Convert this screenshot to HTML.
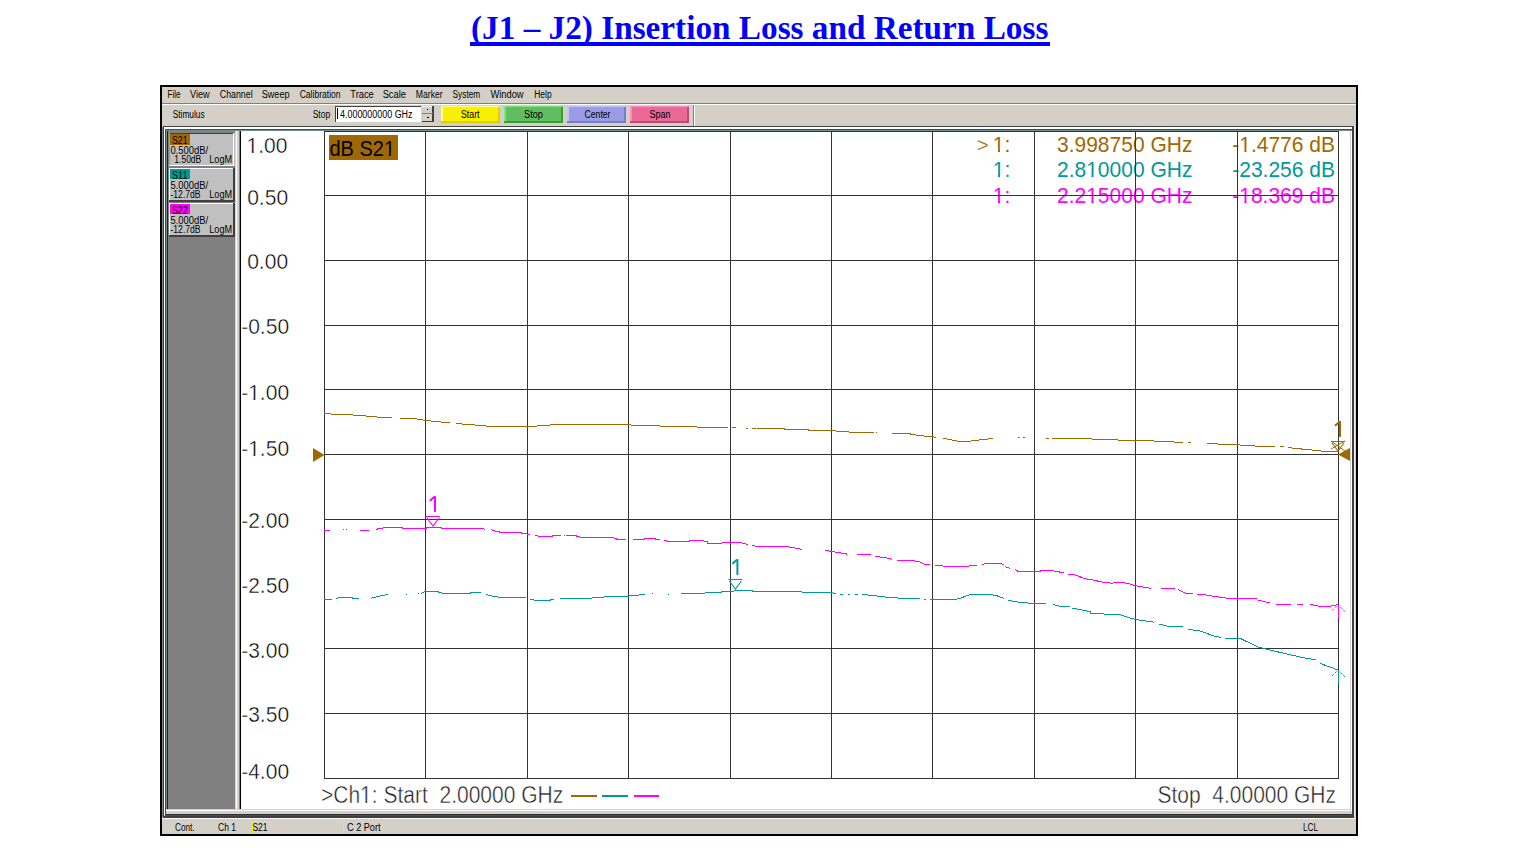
<!DOCTYPE html>
<html><head><meta charset="utf-8"><style>
html,body{margin:0;padding:0;background:#fff;width:1517px;height:862px;overflow:hidden}
.title{position:absolute;left:0;top:0;width:1517px;height:60px}
.title span{position:absolute;left:471px;top:10px;font-family:"Liberation Serif",serif;font-weight:bold;font-size:33.25px;color:#0000ff;white-space:nowrap;line-height:36px}
.title i{position:absolute;left:470px;top:42px;width:580px;height:4px;background:#0000ff}
svg{position:absolute;left:0;top:0}
svg text{font-family:"Liberation Sans",sans-serif}
</style></head><body>
<div class="title"><span>(J1 &#8211; J2) Insertion Loss and Return Loss</span><i></i></div>
<svg width="1517" height="862" viewBox="0 0 1517 862">
<g shape-rendering="crispEdges"><rect x="160" y="85" width="1198" height="751" fill="#000"/><rect x="162" y="87" width="1194" height="747" fill="#d4d0c8"/><rect x="162" y="103" width="1194" height="1" fill="#808080"/><rect x="162" y="104" width="1194" height="1" fill="#ffffff"/><text x="167.6" y="98" font-size="10" fill="#000" textLength="13.0" lengthAdjust="spacingAndGlyphs">File</text><text x="190" y="98" font-size="10" fill="#000" textLength="19.6" lengthAdjust="spacingAndGlyphs">View</text><text x="219.8" y="98" font-size="10" fill="#000" textLength="32.8" lengthAdjust="spacingAndGlyphs">Channel</text><text x="261.7" y="98" font-size="10" fill="#000" textLength="27.9" lengthAdjust="spacingAndGlyphs">Sweep</text><text x="299.7" y="98" font-size="10" fill="#000" textLength="40.9" lengthAdjust="spacingAndGlyphs">Calibration</text><text x="350.3" y="98" font-size="10" fill="#000" textLength="23.5" lengthAdjust="spacingAndGlyphs">Trace</text><text x="382.7" y="98" font-size="10" fill="#000" textLength="23.2" lengthAdjust="spacingAndGlyphs">Scale</text><text x="415.8" y="98" font-size="10" fill="#000" textLength="26.8" lengthAdjust="spacingAndGlyphs">Marker</text><text x="452.6" y="98" font-size="10" fill="#000" textLength="27.6" lengthAdjust="spacingAndGlyphs">System</text><text x="490.4" y="98" font-size="10" fill="#000" textLength="33.2" lengthAdjust="spacingAndGlyphs">Window</text><text x="534.3" y="98" font-size="10" fill="#000" textLength="17.3" lengthAdjust="spacingAndGlyphs">Help</text><text x="172.7" y="118" font-size="10" fill="#000" textLength="32" lengthAdjust="spacingAndGlyphs">Stimulus</text><text x="312.7" y="118" font-size="10" fill="#000" textLength="17.5" lengthAdjust="spacingAndGlyphs">Stop</text><rect x="335" y="106" width="86" height="16" fill="#808080"/><rect x="336" y="107" width="85" height="15" fill="#ffffff"/><rect x="335" y="106" width="86" height="1" fill="#404040"/><rect x="335" y="106" width="1" height="16" fill="#404040"/><rect x="337" y="108" width="1" height="11" fill="#000"/><text x="340" y="117.5" font-size="10" fill="#000" textLength="72.5" lengthAdjust="spacingAndGlyphs">4.000000000 GHz</text><rect x="422" y="106" width="12" height="16" fill="#d4d0c8"/><rect x="422" y="106" width="11" height="1" fill="#ffffff"/><rect x="432" y="106" width="2" height="16" fill="#404040"/><rect x="422" y="121" width="12" height="1" fill="#404040"/><rect x="422" y="113" width="11" height="1" fill="#808080"/><rect x="427" y="109" width="1" height="1" fill="#000"/><rect x="427" y="117" width="2" height="1" fill="#000"/><rect x="441" y="106" width="59" height="17" fill="#f8f000"/><rect x="441" y="106" width="59" height="1" fill="#ffff90"/><rect x="441" y="106" width="2" height="17" fill="#ffff90"/><rect x="498" y="107" width="2" height="16" fill="#e0d000"/><rect x="441" y="121" width="59" height="2" fill="#e0d000"/><text x="461" y="118" font-size="10" fill="#000" textLength="18.5" lengthAdjust="spacingAndGlyphs">Start</text><rect x="504" y="106" width="59" height="17" fill="#62bc62"/><rect x="504" y="106" width="59" height="1" fill="#78e878"/><rect x="504" y="106" width="2" height="17" fill="#78e878"/><rect x="561" y="107" width="2" height="16" fill="#34a034"/><rect x="504" y="121" width="59" height="2" fill="#34a034"/><text x="524" y="118" font-size="10" fill="#000" textLength="19.0" lengthAdjust="spacingAndGlyphs">Stop</text><rect x="567" y="106" width="59" height="17" fill="#9a9ce6"/><rect x="567" y="106" width="59" height="1" fill="#c0c4ff"/><rect x="567" y="106" width="2" height="17" fill="#c0c4ff"/><rect x="624" y="107" width="2" height="16" fill="#7a7cc8"/><rect x="567" y="121" width="59" height="2" fill="#7a7cc8"/><text x="584.5" y="118" font-size="10" fill="#000" textLength="26.0" lengthAdjust="spacingAndGlyphs">Center</text><rect x="630" y="106" width="59" height="17" fill="#e86a96"/><rect x="630" y="106" width="59" height="1" fill="#ff90c0"/><rect x="630" y="106" width="2" height="17" fill="#ff90c0"/><rect x="687" y="107" width="2" height="16" fill="#c04a76"/><rect x="630" y="121" width="59" height="2" fill="#c04a76"/><text x="649.5" y="118" font-size="10" fill="#000" textLength="21.0" lengthAdjust="spacingAndGlyphs">Span</text><rect x="693" y="105" width="1" height="21" fill="#808080"/><rect x="694" y="105" width="1" height="21" fill="#ffffff"/><rect x="163" y="126" width="1191" height="1" fill="#404040"/><rect x="163" y="126" width="1" height="690" fill="#404040"/><rect x="162" y="127" width="1" height="690" fill="#808080"/><rect x="164" y="127" width="1189" height="2" fill="#ffffff"/><rect x="164" y="127" width="1" height="688" fill="#ffffff"/><rect x="165" y="129" width="1187" height="1" fill="#ff0000"/><rect x="165" y="129" width="1" height="687" fill="#ff0000"/><rect x="165" y="815" width="1187" height="1" fill="#ff0000"/><rect x="1352" y="126" width="2" height="690" fill="#404040"/><rect x="1354" y="126" width="1" height="690" fill="#f0f0f0"/><rect x="163" y="816" width="1191" height="2" fill="#404040"/><rect x="166" y="130" width="1186" height="1" fill="#6f8f8f"/><rect x="166" y="131" width="1" height="680" fill="#6f8f8f"/><rect x="167" y="131" width="1" height="678" fill="#202020"/><rect x="168" y="131" width="67" height="678" fill="#808080"/><rect x="235" y="131" width="1" height="678" fill="#d4d0c8"/><rect x="236" y="131" width="1" height="678" fill="#ffffff"/><rect x="237" y="131" width="2" height="678" fill="#d4d0c8"/><rect x="239" y="131" width="1" height="678" fill="#808080"/><rect x="240" y="131" width="1" height="678" fill="#000000"/><rect x="166" y="809" width="1186" height="5" fill="#d4d0c8"/><rect x="166" y="810" width="1184" height="1" fill="#ffffff"/><rect x="166" y="814" width="1186" height="1" fill="#303030"/><rect x="162" y="818" width="1194" height="1" fill="#ffffff"/><rect x="241" y="131" width="1109" height="678" fill="#ffffff"/><rect x="1350" y="131" width="1" height="678" fill="#d4d0c8"/><rect x="1351" y="131" width="1" height="680" fill="#ffffff"/><rect x="169" y="133" width="66" height="34" fill="#c0c0c0"/><rect x="169" y="133" width="65" height="1" fill="#404040"/><rect x="169" y="133" width="1" height="33" fill="#a0a0a0"/><rect x="233" y="133" width="1" height="33" fill="#ffffff"/><rect x="169" y="165" width="65" height="1" fill="#ffffff"/><rect x="169" y="166" width="66" height="1" fill="#808080"/><rect x="170" y="134" width="20" height="11" fill="#a06800"/><text x="172" y="143.5" font-size="10" fill="#000" textLength="15.5" lengthAdjust="spacingAndGlyphs">S21</text><text x="170.5" y="153.5" font-size="10" fill="#000" textLength="37.5" lengthAdjust="spacingAndGlyphs">0.500dB/</text><text x="174.3" y="163" font-size="10" fill="#000" textLength="27" lengthAdjust="spacingAndGlyphs">1.50dB</text><text x="209.3" y="163" font-size="10" fill="#000" textLength="22.8" lengthAdjust="spacingAndGlyphs">LogM</text><rect x="169" y="168" width="66" height="34" fill="#c0c0c0"/><rect x="169" y="168" width="65" height="1" fill="#ffffff"/><rect x="169" y="168" width="1" height="33" fill="#ffffff"/><rect x="233" y="168" width="2" height="34" fill="#404040"/><rect x="169" y="200" width="66" height="2" fill="#404040"/><rect x="170" y="169" width="20" height="10" fill="#00999a"/><text x="172" y="178.5" font-size="10" fill="#000" textLength="15.5" lengthAdjust="spacingAndGlyphs">S11</text><text x="170.5" y="188.5" font-size="10" fill="#000" textLength="37.5" lengthAdjust="spacingAndGlyphs">5.000dB/</text><text x="170.5" y="198" font-size="10" fill="#000" textLength="30" lengthAdjust="spacingAndGlyphs">-12.7dB</text><text x="209.3" y="198" font-size="10" fill="#000" textLength="22.8" lengthAdjust="spacingAndGlyphs">LogM</text><rect x="169" y="203" width="66" height="34" fill="#c0c0c0"/><rect x="169" y="203" width="65" height="1" fill="#ffffff"/><rect x="169" y="203" width="1" height="33" fill="#ffffff"/><rect x="233" y="203" width="2" height="34" fill="#404040"/><rect x="169" y="235" width="66" height="2" fill="#404040"/><rect x="170" y="204" width="20" height="10" fill="#ff00ff"/><text x="172" y="213.5" font-size="10" fill="#000" textLength="15.5" lengthAdjust="spacingAndGlyphs">S22</text><text x="170.5" y="223.5" font-size="10" fill="#000" textLength="37.5" lengthAdjust="spacingAndGlyphs">5.000dB/</text><text x="170.5" y="233" font-size="10" fill="#000" textLength="30" lengthAdjust="spacingAndGlyphs">-12.7dB</text><text x="209.3" y="233" font-size="10" fill="#000" textLength="22.8" lengthAdjust="spacingAndGlyphs">LogM</text><text x="175" y="831" font-size="10" fill="#000" textLength="19.5" lengthAdjust="spacingAndGlyphs">Cont.</text><text x="218" y="831" font-size="10" fill="#000" textLength="18" lengthAdjust="spacingAndGlyphs">Ch 1</text><rect x="252" y="821" width="91" height="12" fill="none"/><rect x="252.5" y="821.5" width="90.5" height="12" fill="none" stroke="#f0f000" stroke-width="1"/><text x="252.5" y="831" font-size="10" fill="#000" textLength="15" lengthAdjust="spacingAndGlyphs">S21</text><text x="347" y="831" font-size="10" fill="#000" textLength="33.5" lengthAdjust="spacingAndGlyphs">C  2 Port</text><text x="1303" y="831" font-size="10" fill="#000" textLength="15" lengthAdjust="spacingAndGlyphs">LCL</text></g>
<g><rect x="329" y="135" width="69" height="25" fill="#a06800"/><g transform="translate(329.5,156) scale(1,1.03)"><text x="0" y="0" font-size="21" fill="#000" textLength="65.5" lengthAdjust="spacingAndGlyphs">dB S21</text><rect x="54.98" y="-2.1" width="4.35" height="2.97" fill="#a06800"/><rect x="61.27" y="-2.1" width="3.85" height="2.97" fill="#a06800"/></g><g transform="translate(246.5,153.3) scale(1,1.05)"><text x="0" y="0" font-size="21" fill="#000" textLength="40.87" lengthAdjust="spacingAndGlyphs" stroke="#fff" stroke-width="0.4">1.00</text><rect x="0.62" y="-2.1" width="4.57" height="2.97" fill="#fff"/><rect x="7.23" y="-2.1" width="4.05" height="2.97" fill="#fff"/></g><g transform="translate(247.2,205.3) scale(1,1.05)"><text x="0" y="0" font-size="21" fill="#000" textLength="40.87" lengthAdjust="spacingAndGlyphs" stroke="#fff" stroke-width="0.4">0.50</text></g><g transform="translate(247.2,269.3) scale(1,1.05)"><text x="0" y="0" font-size="21" fill="#000" textLength="40.87" lengthAdjust="spacingAndGlyphs" stroke="#fff" stroke-width="0.4">0.00</text></g><g transform="translate(241.2,334.3) scale(1,1.05)"><text x="0" y="0" font-size="21" fill="#000" textLength="47.87" lengthAdjust="spacingAndGlyphs" stroke="#fff" stroke-width="0.4">-0.50</text></g><g transform="translate(241.2,400.0) scale(1,1.05)"><text x="0" y="0" font-size="21" fill="#000" textLength="47.87" lengthAdjust="spacingAndGlyphs" stroke="#fff" stroke-width="0.4">-1.00</text><rect x="7.61" y="-2.1" width="4.57" height="2.97" fill="#fff"/><rect x="14.22" y="-2.1" width="4.05" height="2.97" fill="#fff"/></g><g transform="translate(241.2,456.0) scale(1,1.05)"><text x="0" y="0" font-size="21" fill="#000" textLength="47.87" lengthAdjust="spacingAndGlyphs" stroke="#fff" stroke-width="0.4">-1.50</text><rect x="7.61" y="-2.1" width="4.57" height="2.97" fill="#fff"/><rect x="14.22" y="-2.1" width="4.05" height="2.97" fill="#fff"/></g><g transform="translate(241.2,528.3) scale(1,1.05)"><text x="0" y="0" font-size="21" fill="#000" textLength="47.87" lengthAdjust="spacingAndGlyphs" stroke="#fff" stroke-width="0.4">-2.00</text></g><g transform="translate(241.2,593.3) scale(1,1.05)"><text x="0" y="0" font-size="21" fill="#000" textLength="47.87" lengthAdjust="spacingAndGlyphs" stroke="#fff" stroke-width="0.4">-2.50</text></g><g transform="translate(241.2,658.0) scale(1,1.05)"><text x="0" y="0" font-size="21" fill="#000" textLength="47.87" lengthAdjust="spacingAndGlyphs" stroke="#fff" stroke-width="0.4">-3.00</text></g><g transform="translate(241.2,722.3) scale(1,1.05)"><text x="0" y="0" font-size="21" fill="#000" textLength="47.87" lengthAdjust="spacingAndGlyphs" stroke="#fff" stroke-width="0.4">-3.50</text></g><g transform="translate(241.2,779.3) scale(1,1.05)"><text x="0" y="0" font-size="21" fill="#000" textLength="47.87" lengthAdjust="spacingAndGlyphs" stroke="#fff" stroke-width="0.4">-4.00</text></g><g transform="translate(976.5,151.7) scale(1,1.0)"><text x="0" y="0" font-size="21" fill="#a06800" textLength="12.26" lengthAdjust="spacingAndGlyphs" stroke="#fff" stroke-width="0.25">&gt;</text></g><g transform="translate(1010.3,151.5) scale(1,1.08)"><text x="0" y="0" font-size="21" fill="#a06800" text-anchor="end" textLength="17.51" lengthAdjust="spacingAndGlyphs">1:</text><rect x="-16.89" y="-2.1" width="4.57" height="2.97" fill="#fff"/><rect x="-10.28" y="-2.1" width="4.05" height="2.97" fill="#fff"/></g><g transform="translate(1057,151.5) scale(1,1.08)"><text x="0" y="0" font-size="21" fill="#a06800" textLength="135.43" lengthAdjust="spacingAndGlyphs">3.998750 GHz</text></g><g transform="translate(1335,151.5) scale(1,1.08)"><text x="0" y="0" font-size="21" fill="#a06800" text-anchor="end" textLength="102.75" lengthAdjust="spacingAndGlyphs">-1.4776 dB</text><rect x="-95.14" y="-2.1" width="4.57" height="2.97" fill="#fff"/><rect x="-88.53" y="-2.1" width="4.05" height="2.97" fill="#fff"/></g><g transform="translate(1010.3,177) scale(1,1.08)"><text x="0" y="0" font-size="21" fill="#00999a" text-anchor="end" textLength="17.51" lengthAdjust="spacingAndGlyphs">1:</text><rect x="-16.89" y="-2.1" width="4.57" height="2.97" fill="#fff"/><rect x="-10.28" y="-2.1" width="4.05" height="2.97" fill="#fff"/></g><g transform="translate(1057,177) scale(1,1.08)"><text x="0" y="0" font-size="21" fill="#00999a" textLength="135.43" lengthAdjust="spacingAndGlyphs">2.810000 GHz</text><rect x="29.81" y="-2.1" width="4.57" height="2.97" fill="#fff"/><rect x="36.42" y="-2.1" width="4.05" height="2.97" fill="#fff"/></g><g transform="translate(1335,177) scale(1,1.08)"><text x="0" y="0" font-size="21" fill="#00999a" text-anchor="end" textLength="102.75" lengthAdjust="spacingAndGlyphs">-23.256 dB</text></g><g transform="translate(1010.3,203) scale(1,1.08)"><text x="0" y="0" font-size="21" fill="#ff00ff" text-anchor="end" textLength="17.51" lengthAdjust="spacingAndGlyphs">1:</text><rect x="-16.89" y="-2.1" width="4.57" height="2.97" fill="#fff"/><rect x="-10.28" y="-2.1" width="4.05" height="2.97" fill="#fff"/></g><g transform="translate(1057,203) scale(1,1.08)"><text x="0" y="0" font-size="21" fill="#ff00ff" textLength="135.43" lengthAdjust="spacingAndGlyphs">2.215000 GHz</text><rect x="29.81" y="-2.1" width="4.57" height="2.97" fill="#fff"/><rect x="36.42" y="-2.1" width="4.05" height="2.97" fill="#fff"/></g><g transform="translate(1335,203) scale(1,1.08)"><text x="0" y="0" font-size="21" fill="#ff00ff" text-anchor="end" textLength="102.75" lengthAdjust="spacingAndGlyphs">-18.369 dB</text><rect x="-95.14" y="-2.1" width="4.57" height="2.97" fill="#fff"/><rect x="-88.53" y="-2.1" width="4.05" height="2.97" fill="#fff"/></g><g transform="translate(321,803) scale(1,1.11)"><text x="0" y="0" font-size="21" fill="#222" textLength="242.23" lengthAdjust="spacingAndGlyphs" stroke="#fff" stroke-width="0.4">&gt;Ch1: Start&#160; 2.00000 GHz</text><rect x="39.73" y="-2.1" width="4.57" height="2.97" fill="#fff"/><rect x="46.34" y="-2.1" width="4.05" height="2.97" fill="#fff"/></g><g transform="translate(1336,803) scale(1,1.11)"><text x="0" y="0" font-size="21" fill="#222" text-anchor="end" textLength="178.62" lengthAdjust="spacingAndGlyphs" stroke="#fff" stroke-width="0.4">Stop&#160; 4.00000 GHz</text></g><rect x="571" y="795" width="26" height="2" fill="#a06800"/><rect x="602" y="795" width="26" height="2" fill="#00999a"/><rect x="634" y="795" width="25" height="2" fill="#ff00ff"/></g>
<g shape-rendering="crispEdges"><rect x="324" y="131" width="1" height="648" fill="#333333"/><rect x="324" y="131" width="1015" height="1" fill="#333333"/><rect x="425" y="131" width="1" height="648" fill="#333333"/><rect x="324" y="195" width="1015" height="1" fill="#333333"/><rect x="527" y="131" width="1" height="648" fill="#333333"/><rect x="324" y="260" width="1015" height="1" fill="#333333"/><rect x="628" y="131" width="1" height="648" fill="#333333"/><rect x="324" y="325" width="1015" height="1" fill="#333333"/><rect x="730" y="131" width="1" height="648" fill="#333333"/><rect x="324" y="389" width="1015" height="1" fill="#333333"/><rect x="831" y="131" width="1" height="648" fill="#333333"/><rect x="324" y="454" width="1015" height="1" fill="#333333"/><rect x="932" y="131" width="1" height="648" fill="#333333"/><rect x="324" y="519" width="1015" height="1" fill="#333333"/><rect x="1034" y="131" width="1" height="648" fill="#333333"/><rect x="1135" y="131" width="1" height="648" fill="#333333"/><rect x="324" y="648" width="1015" height="1" fill="#333333"/><rect x="1237" y="131" width="1" height="648" fill="#333333"/><rect x="324" y="713" width="1015" height="1" fill="#333333"/><rect x="1338" y="131" width="1" height="648" fill="#333333"/><rect x="324" y="778" width="1015" height="1" fill="#333333"/></g>
<g><polyline points="324,413.3 333,414.2 353,415 370,416.3 380,417.3 392,417.3" fill="none" stroke="#a06800" stroke-width="1" shape-rendering="crispEdges"/><polyline points="400,418.3 415,418.5 421,419.8 425,420.2 434,421.5 442,422.1 450,422.1" fill="none" stroke="#a06800" stroke-width="1" shape-rendering="crispEdges"/><polyline points="456,423.5 468,424.5 480,425.4 490,426.4 520,426.5 537,426 550,425 557,424.5 581,424.1 618,424.1 635,425.3 667,426.2 700,427.1 728,427.4" fill="none" stroke="#a06800" stroke-width="1" shape-rendering="crispEdges"/><polyline points="732,427.4 736,427.4" fill="none" stroke="#a06800" stroke-width="1" shape-rendering="crispEdges"/><polyline points="746,428 748,428" fill="none" stroke="#a06800" stroke-width="1" shape-rendering="crispEdges"/><polyline points="752,428.3 756,428.3" fill="none" stroke="#a06800" stroke-width="1" shape-rendering="crispEdges"/><polyline points="757,428.3 784,428.3 784,429.2 808,429.2 808,430.3 832,430.3 838,431.3 851,432.1 874,432.1" fill="none" stroke="#a06800" stroke-width="1" shape-rendering="crispEdges"/><polyline points="876,432.1 877,432.1" fill="none" stroke="#a06800" stroke-width="1" shape-rendering="crispEdges"/><polyline points="892,433.3 910,433.3 910,434.4 920,435.4 927,436.5 936,437.2" fill="none" stroke="#a06800" stroke-width="1" shape-rendering="crispEdges"/><polyline points="943,438.5 950,439.5 957,441.1 970,441.1 976,440.3 985,439.4 993,438.5" fill="none" stroke="#a06800" stroke-width="1" shape-rendering="crispEdges"/><polyline points="1018,437.3 1020,437.3" fill="none" stroke="#a06800" stroke-width="1" shape-rendering="crispEdges"/><polyline points="1023,437.3 1025,437.3" fill="none" stroke="#a06800" stroke-width="1" shape-rendering="crispEdges"/><polyline points="1046,438.3 1049,438.3" fill="none" stroke="#a06800" stroke-width="1" shape-rendering="crispEdges"/><polyline points="1052,438.3 1075,438.3 1097,439.2 1115,439.5 1120,440.3 1144,440.3 1159,441.4 1183,442.4" fill="none" stroke="#a06800" stroke-width="1" shape-rendering="crispEdges"/><polyline points="1188,442.4 1191,442.4" fill="none" stroke="#a06800" stroke-width="1" shape-rendering="crispEdges"/><polyline points="1207,443.5 1226,444.4 1240,445 1260,446.3 1275,446.3" fill="none" stroke="#a06800" stroke-width="1" shape-rendering="crispEdges"/><polyline points="1280,446.8 1284,447" fill="none" stroke="#a06800" stroke-width="1" shape-rendering="crispEdges"/><polyline points="1288,447.4 1295,448.4 1310,449.8 1325,451.4 1338,452" fill="none" stroke="#a06800" stroke-width="1" shape-rendering="crispEdges"/><polyline points="324,530.2 330,530.2" fill="none" stroke="#ff00ff" stroke-width="1" shape-rendering="crispEdges"/><polyline points="343,529.2 344,529.2" fill="none" stroke="#ff00ff" stroke-width="1" shape-rendering="crispEdges"/><polyline points="346,529.2 347,529.2" fill="none" stroke="#ff00ff" stroke-width="1" shape-rendering="crispEdges"/><polyline points="360,530.2 369,530.2" fill="none" stroke="#ff00ff" stroke-width="1" shape-rendering="crispEdges"/><polyline points="376,529.3 381,528.3 385,527.6 402,527.6 402,528.5 426,528.5 426,527.6 441,527.6 441,528.5 481,528.5 485,529.2" fill="none" stroke="#ff00ff" stroke-width="1" shape-rendering="crispEdges"/><polyline points="491,529.5 496,531.5 503,532.5 520,532.5 523,533.5 530,534.5" fill="none" stroke="#ff00ff" stroke-width="1" shape-rendering="crispEdges"/><polyline points="535,535.4 540,536.4 552,536.4 552,535.4 561,535.4" fill="none" stroke="#ff00ff" stroke-width="1" shape-rendering="crispEdges"/><polyline points="564,535.4 565,535.4" fill="none" stroke="#ff00ff" stroke-width="1" shape-rendering="crispEdges"/><polyline points="566,535.4 576,535.4 576,536.4 583,537.4 611,537.4 616,538.4 616,539.4 626,539.4" fill="none" stroke="#ff00ff" stroke-width="1" shape-rendering="crispEdges"/><polyline points="633,539.4 644,539.4 644,538.5 655,538.5 655,539.4 660,539.4" fill="none" stroke="#ff00ff" stroke-width="1" shape-rendering="crispEdges"/><polyline points="664,540.3 669,541.4 689,541.4 689,540.5 702,540.5 707,541.8 707,543.3 720,543.2 728,542.4 740,542.4 748,544.5" fill="none" stroke="#ff00ff" stroke-width="1" shape-rendering="crispEdges"/><polyline points="752,545.4 758,546.5 784,546.5 793,547.5 802,549.4" fill="none" stroke="#ff00ff" stroke-width="1" shape-rendering="crispEdges"/><polyline points="825,550.4 835,552 847,554.1" fill="none" stroke="#ff00ff" stroke-width="1" shape-rendering="crispEdges"/><polyline points="857,554.3 871,554.3" fill="none" stroke="#ff00ff" stroke-width="1" shape-rendering="crispEdges"/><polyline points="875,556.4 887,558 892,559.3" fill="none" stroke="#ff00ff" stroke-width="1" shape-rendering="crispEdges"/><polyline points="897,560.3 911,560.3 920,562 925,564.5 930,564.5" fill="none" stroke="#ff00ff" stroke-width="1" shape-rendering="crispEdges"/><polyline points="935,565.4 944,566.1 968,566.1 977,565.4" fill="none" stroke="#ff00ff" stroke-width="1" shape-rendering="crispEdges"/><polyline points="982,564.5 986,563.5 1000,563.5 1004,564.5" fill="none" stroke="#ff00ff" stroke-width="1" shape-rendering="crispEdges"/><polyline points="1005,566.8 1010,568.2" fill="none" stroke="#ff00ff" stroke-width="1" shape-rendering="crispEdges"/><polyline points="1015,569.4 1018,571.4 1040,571.4 1040,570.3 1049,570.3 1057,571.4 1064,573.1" fill="none" stroke="#ff00ff" stroke-width="1" shape-rendering="crispEdges"/><polyline points="1068,574.3 1075,575 1085,578.6 1093,580 1104,582.5 1112,583.2 1120,582.1 1128,583.5 1136,585.9 1151,588.3" fill="none" stroke="#ff00ff" stroke-width="1" shape-rendering="crispEdges"/><polyline points="1161,588.3 1175,588.3" fill="none" stroke="#ff00ff" stroke-width="1" shape-rendering="crispEdges"/><polyline points="1178,589.5 1185,593.2 1193,593.2" fill="none" stroke="#ff00ff" stroke-width="1" shape-rendering="crispEdges"/><polyline points="1197,594.3 1206,595 1216,596.6 1227,598.2 1257,598.2" fill="none" stroke="#ff00ff" stroke-width="1" shape-rendering="crispEdges"/><polyline points="1258,600 1270,603" fill="none" stroke="#ff00ff" stroke-width="1" shape-rendering="crispEdges"/><polyline points="1276,604.2 1291,604.2" fill="none" stroke="#ff00ff" stroke-width="1" shape-rendering="crispEdges"/><polyline points="1297,604 1303,604" fill="none" stroke="#ff00ff" stroke-width="1" shape-rendering="crispEdges"/><polyline points="1310,604.3 1318,606 1331,606 1338,604.6" fill="none" stroke="#ff00ff" stroke-width="1" shape-rendering="crispEdges"/><polyline points="324,600.1 326,599.3 332,599.3" fill="none" stroke="#00999a" stroke-width="1" shape-rendering="crispEdges"/><polyline points="336,598.3 341,597.4 352,597.4 352,598.3 359,598.3" fill="none" stroke="#00999a" stroke-width="1" shape-rendering="crispEdges"/><polyline points="371,598.3 378,596.4 388,594.4" fill="none" stroke="#00999a" stroke-width="1" shape-rendering="crispEdges"/><polyline points="406,594.4 407,594.4" fill="none" stroke="#00999a" stroke-width="1" shape-rendering="crispEdges"/><polyline points="418,593.5 419,593.5" fill="none" stroke="#00999a" stroke-width="1" shape-rendering="crispEdges"/><polyline points="421,593.5 425,591.5 438,591.5 438,592.4 445,593.5 470,593.5 470,592.4 481,592.4" fill="none" stroke="#00999a" stroke-width="1" shape-rendering="crispEdges"/><polyline points="486,594.4 492,596.1 501,597.4 520,597.6 526,597.7" fill="none" stroke="#00999a" stroke-width="1" shape-rendering="crispEdges"/><polyline points="530,599.3 536,600.3 549,600.3 554,599.3" fill="none" stroke="#00999a" stroke-width="1" shape-rendering="crispEdges"/><polyline points="560,598.3 589,598.3 597,597.4 615,596.4 625,596.4 636,595.3 645,594.4" fill="none" stroke="#00999a" stroke-width="1" shape-rendering="crispEdges"/><polyline points="652,593.5 653,593.5" fill="none" stroke="#00999a" stroke-width="1" shape-rendering="crispEdges"/><polyline points="668,594.4 669,594.4" fill="none" stroke="#00999a" stroke-width="1" shape-rendering="crispEdges"/><polyline points="681,593.5 703,593.5 708,592.4 718,592.4 727,591.4 744,590.4 758,591.4 830,592.4 836,593.5" fill="none" stroke="#00999a" stroke-width="1" shape-rendering="crispEdges"/><polyline points="840,594 843,594" fill="none" stroke="#00999a" stroke-width="1" shape-rendering="crispEdges"/><polyline points="848,594 850,594" fill="none" stroke="#00999a" stroke-width="1" shape-rendering="crispEdges"/><polyline points="855,594 858,594" fill="none" stroke="#00999a" stroke-width="1" shape-rendering="crispEdges"/><polyline points="862,594.4 874,595.7 888,597.4 900,598.1 920,598.6" fill="none" stroke="#00999a" stroke-width="1" shape-rendering="crispEdges"/><polyline points="924,599.5 926,599.5" fill="none" stroke="#00999a" stroke-width="1" shape-rendering="crispEdges"/><polyline points="930,599.5 954,599.5 960,598.5 967,595.6 972,594.2 988,594.2 996,595.4 1004,598.5" fill="none" stroke="#00999a" stroke-width="1" shape-rendering="crispEdges"/><polyline points="1008,600.4 1020,602.4 1034,603.5 1046,603.5" fill="none" stroke="#00999a" stroke-width="1" shape-rendering="crispEdges"/><polyline points="1053,604.4 1060,606.4 1070,606.4" fill="none" stroke="#00999a" stroke-width="1" shape-rendering="crispEdges"/><polyline points="1072,608.3 1080,609.5 1090,611.6 1091,613.6 1120,614.5 1128,617.4 1136,619.5 1154,622.2" fill="none" stroke="#00999a" stroke-width="1" shape-rendering="crispEdges"/><polyline points="1159,624 1170,626.9 1183,626.9" fill="none" stroke="#00999a" stroke-width="1" shape-rendering="crispEdges"/><polyline points="1188,629.3 1200,631 1214,636 1221,637.5" fill="none" stroke="#00999a" stroke-width="1" shape-rendering="crispEdges"/><polyline points="1225,638.3 1240,638.3 1258,647 1270,650 1287,654 1300,657 1316,660" fill="none" stroke="#00999a" stroke-width="1" shape-rendering="crispEdges"/><polyline points="1320,663.3 1338,670" fill="none" stroke="#00999a" stroke-width="1" shape-rendering="crispEdges"/><path d="M426,516.5 H440 M427,518 L433,526 L439,518" fill="none" stroke="#ff00ff" stroke-width="1.1"/><rect x="434" y="496.1" width="2" height="15.8" fill="#ff00ff"/><path d="M430,500.7 L434.5,496.7" stroke="#ff00ff" stroke-width="2" fill="none"/><path d="M728.4,579.5 H742.4 M729.4,581 L735.4,589 L741.4,581" fill="none" stroke="#00999a" stroke-width="1.1"/><rect x="736.4" y="559.1" width="2" height="15.8" fill="#00999a"/><path d="M732.4,563.7 L736.9,559.7" stroke="#00999a" stroke-width="2" fill="none"/><path d="M1331,441.5 H1345 M1332,443 L1338,451 L1344,443" fill="none" stroke="#a06800" stroke-width="1.1"/><rect x="1339" y="421.1" width="2" height="15.8" fill="#a06800"/><path d="M1335,425.7 L1339.5,421.7" stroke="#a06800" stroke-width="2" fill="none"/><path d="M313,448 L313,462 L324.5,455 Z" fill="#a06800"/><path d="M1338,454.5 L1350,448 L1350,461 Z" fill="#a06800"/><path d="M1332,610.6 L1338,604.6 L1346,612.6" fill="none" stroke="#ff00ff" stroke-width="1" stroke-dasharray="2.5,1.5"/><rect x="1338" y="605.6" width="1" height="13" fill="#ff00ff"/><path d="M1332,676 L1338,670 L1346,678" fill="none" stroke="#00999a" stroke-width="1" stroke-dasharray="2.5,1.5"/><rect x="1338" y="671" width="1" height="13" fill="#00999a"/><path d="M1331,449 L1345,441 M1331,441 L1345,451" fill="none" stroke="#a06800" stroke-width="1"/></g>
</svg>
</body></html>
